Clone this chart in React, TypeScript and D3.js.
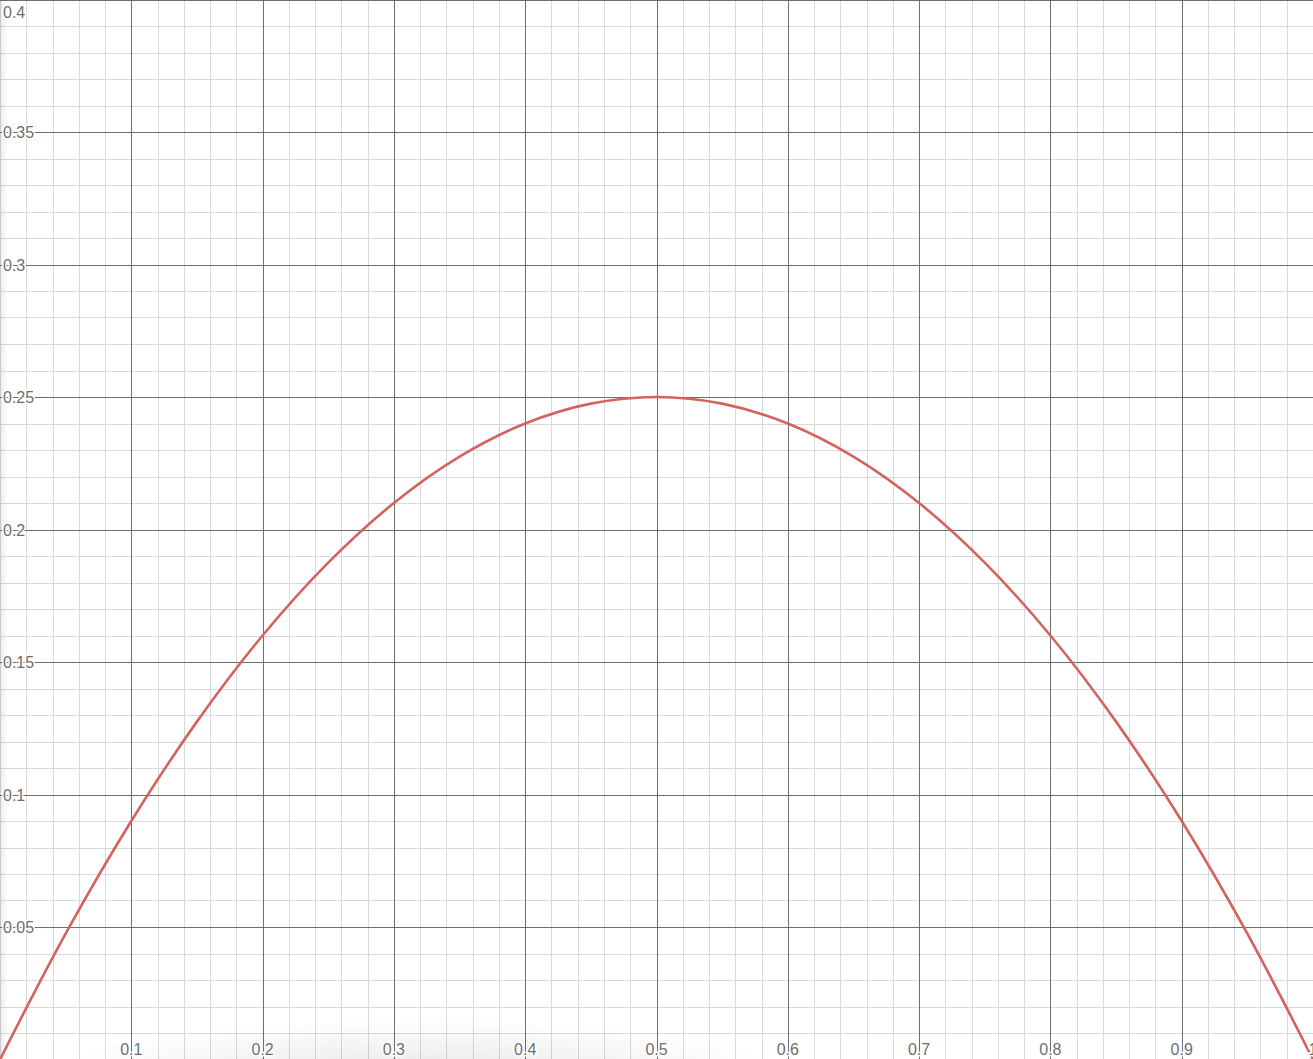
import React, { useEffect, useRef } from "react";
import * as d3 from "d3";

// points (x, y)
const xs = [0, 0.05, 0.1, 0.15, 0.2, 0.25, 0.3, 0.35, 0.4, 0.45, 0.5, 0.55, 0.6, 0.65, 0.7, 0.75, 0.8, 0.85, 0.9, 0.95, 1];
const ys = [0, 0.0475, 0.09, 0.1275, 0.16, 0.1875, 0.21, 0.2275, 0.24, 0.2475, 0.25, 0.2475, 0.24, 0.2275, 0.21, 0.1875, 0.16, 0.1275, 0.09, 0.0475, 0];

const xTickLabels = ["0.1", "0.2", "0.3", "0.4", "0.5", "0.6", "0.7", "0.8", "0.9", "1"];
const yTickLabels = ["0.05", "0.1", "0.15", "0.2", "0.25", "0.3", "0.35", "0.4"];

const W = 1313;
const H = 1059;

export default function App() {
  const svgRef = useRef<SVGSVGElement>(null);

  useEffect(() => {
    if (!svgRef.current) return;
    const svg = d3.select(svgRef.current);
    svg.selectAll("*").remove();

    const x = d3.scaleLinear().domain([0, 1]).range([0, W]);
    const y = d3.scaleLinear().domain([0, 0.4]).range([H + 0.5, -0.5]);

    svg.append("rect").attr("width", W).attr("height", H).attr("fill", "#fff");

    const defs = svg.append("defs");
    const rg = defs
      .append("radialGradient")
      .attr("id", "shade")
      .attr("cx", 0.5)
      .attr("cy", 0.5)
      .attr("r", 0.5);
    rg.append("stop").attr("offset", "0%").attr("stop-color", "#000").attr("stop-opacity", 0.1);
    rg.append("stop").attr("offset", "100%").attr("stop-color", "#000").attr("stop-opacity", 0);
    const lg = defs.append("linearGradient").attr("id", "leftShade").attr("x1", 0).attr("x2", 1);
    lg.append("stop").attr("offset", "0%").attr("stop-color", "#000").attr("stop-opacity", 0.08);
    lg.append("stop").attr("offset", "100%").attr("stop-color", "#000").attr("stop-opacity", 0);

    // minor grid
    const minorX = d3.range(0, 51).map((i) => i * 0.02);
    const minorY = d3.range(0, 41).map((i) => i * 0.01);
    const grid = svg.append("g").attr("shape-rendering", "crispEdges");
    grid
      .selectAll(".mx")
      .data(minorX)
      .enter()
      .append("line")
      .attr("x1", (d) => Math.round(x(d)) + 0.5)
      .attr("x2", (d) => Math.round(x(d)) + 0.5)
      .attr("y1", 0)
      .attr("y2", H)
      .attr("stroke", "#d9d9d9")
      .attr("stroke-width", 1);
    grid
      .selectAll(".my")
      .data(minorY)
      .enter()
      .append("line")
      .attr("y1", (d) => Math.round(y(d)) + 0.5)
      .attr("y2", (d) => Math.round(y(d)) + 0.5)
      .attr("x1", 0)
      .attr("x2", W)
      .attr("stroke", "#d9d9d9")
      .attr("stroke-width", 1);

    // major grid
    const majorX = xTickLabels.map(Number);
    const majorY = yTickLabels.map(Number);
    grid
      .selectAll(".Mx")
      .data(majorX)
      .enter()
      .append("line")
      .attr("x1", (d) => Math.round(x(d)) + 0.5)
      .attr("x2", (d) => Math.round(x(d)) + 0.5)
      .attr("y1", 0)
      .attr("y2", H)
      .attr("stroke", "#6e6e6e")
      .attr("stroke-width", 1);
    grid
      .selectAll(".My")
      .data(majorY)
      .enter()
      .append("line")
      .attr("y1", (d) => Math.round(y(d)) + 0.5)
      .attr("y2", (d) => Math.round(y(d)) + 0.5)
      .attr("x1", 0)
      .attr("x2", W)
      .attr("stroke", "#6e6e6e")
      .attr("stroke-width", 1);

    // screenshot shading
    svg
      .append("ellipse")
      .attr("cx", 420)
      .attr("cy", H + 20)
      .attr("rx", 380)
      .attr("ry", 60)
      .attr("fill", "url(#shade)");
    svg.append("rect").attr("width", 8).attr("height", H).attr("fill", "url(#leftShade)");

    // curve
    const pts = xs.map((v, i) => [v, ys[i]] as [number, number]);
    const line = d3
      .line<[number, number]>()
      .x((d) => x(d[0]))
      .y((d) => y(d[1]))
      .curve(d3.curveCatmullRom.alpha(0.5));
    svg
      .append("path")
      .datum(pts)
      .attr("d", line)
      .attr("fill", "none")
      .attr("stroke", "#d2635f")
      .attr("stroke-width", 2.6)
      .attr("stroke-linejoin", "round");

    // labels
    const font = "Helvetica, Arial, 'Liberation Sans', sans-serif";
    svg
      .append("g")
      .selectAll("text")
      .data(xTickLabels)
      .enter()
      .append("text")
      .attr("x", (d) => x(Number(d)))
      .attr("y", 1055)
      .attr("text-anchor", "middle")
      .style("font-family", font)
      .style("font-size", "16px")
      .attr("fill", "#6e6e6e")
      .attr("stroke", "#fff")
      .attr("stroke-width", 3)
      .attr("paint-order", "stroke")
      .text((d) => d);

    svg
      .append("g")
      .selectAll("text")
      .data(yTickLabels)
      .enter()
      .append("text")
      .attr("x", 3)
      .attr("y", (d) => Math.max(y(Number(d)) + 6, 18))
      .attr("text-anchor", "start")
      .style("font-family", font)
      .style("font-size", "16px")
      .attr("fill", "#6e6e6e")
      .attr("stroke", "#fff")
      .attr("stroke-width", 3)
      .attr("paint-order", "stroke")
      .text((d) => d);
  }, []);

  return (
    <svg
      ref={svgRef}
      width={W}
      height={H}
      style={{ position: "fixed", left: 0, top: 0, display: "block" }}
    />
  );
}
